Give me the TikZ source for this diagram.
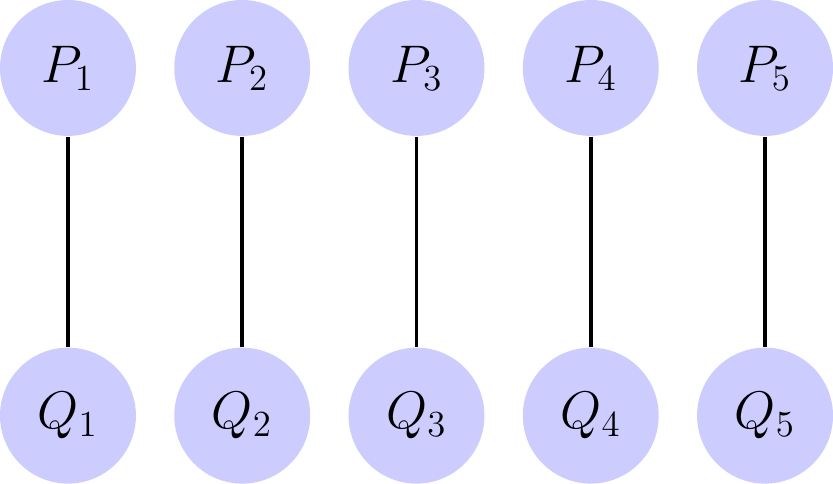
\documentclass[tikz,border=0pt]{standalone}
\usepackage{tikz}

\begin{document}
\begin{tikzpicture}[
    vertex/.style={circle, fill=blue!20, minimum size=1.56cm, inner sep=0pt, font=\LARGE}]
    % Top row
    \foreach \i in {1,...,5} {
        \node[vertex] (p\i) at ({2*(\i-1)},0) {$P_\i$};
    }

    % Bottom row
    \foreach \i in {1,...,5} {
        \node[vertex] (q\i) at ({2*(\i-1)},-3.99) {$Q_\i$};
    }

    % Edges
    \foreach \i in {1,...,5} {
        \draw[very thick] (p\i) -- (q\i);
    }
\end{tikzpicture}
\end{document}
